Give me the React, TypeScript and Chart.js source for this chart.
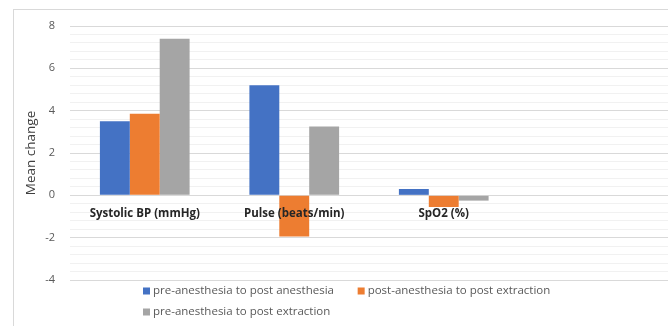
import React, { useEffect, useRef } from 'react';
import { Chart, registerables } from 'chart.js';

Chart.register(...registerables);

// ---- data ----
const categories = ['Systolic BP (mmHg)', 'Pulse (beats/min)', 'SpO2 (%)', ''];
const seriesNames = [
  'pre-anesthesia to post anesthesia',
  'post-anesthesia to post extraction',
  'pre-anesthesia to post extraction',
];
const preToPostAnesthesia = [3.5, 5.2, 0.3, null];
const postAnesthesiaToPostExtraction = [3.85, -1.95, -0.55, null];
const preAnesthesiaToPostExtraction = [7.4, 3.25, -0.25, null];
const seriesColors = ['#4472C4', '#ED7D31', '#A5A5A5'];
const yMin = -4;
const yMax = 8;
const yMajorStep = 2;
const yMinorStep = 0.4;
const yTitle = 'Mean change';

const FONT = '"Open Sans", "DejaVu Sans", sans-serif';

const isMajor = (v: number) => Math.abs(v / yMajorStep - Math.round(v / yMajorStep)) < 1e-6;

const categoryLabelPlugin = {
  id: 'categoryLabels',
  afterDatasetsDraw(chart: any) {
    const { ctx, scales } = chart;
    const x = scales.x;
    const y = scales.y;
    const y0 = y.getPixelForValue(0);
    ctx.save();
    ctx.font = `bold 11.5px ${FONT}`;
    ctx.fillStyle = '#262626';
    ctx.textAlign = 'center';
    ctx.textBaseline = 'middle';
    categories.forEach((c, i) => {
      if (c) ctx.fillText(c, x.getPixelForValue(i), y0 + 18);
    });
    ctx.restore();
  },
};

const legendPlugin = {
  id: 'excelLegend',
  afterDraw(chart: any) {
    const { ctx } = chart;
    ctx.save();
    ctx.font = `11.5px ${FONT}`;
    ctx.textBaseline = 'middle';
    ctx.textAlign = 'left';
    const maxW = Math.max(...seriesNames.map((n) => ctx.measureText(n).width));
    const pitch = 10 + maxW + 22;
    const startX = 143;
    const rowY = [291, 312];
    seriesNames.forEach((name, i) => {
      const col = i % 2;
      const row = Math.floor(i / 2);
      const bx = startX + col * pitch;
      const by = rowY[row];
      ctx.fillStyle = seriesColors[i];
      ctx.fillRect(bx, by - 3.5, 7, 7);
      ctx.fillStyle = '#595959';
      ctx.fillText(name, bx + 10, by);
    });
    ctx.restore();
  },
};

export default function App() {
  const canvasRef = useRef<HTMLCanvasElement | null>(null);

  useEffect(() => {
    if (!canvasRef.current) return;
    const chart = new Chart(canvasRef.current, {
      type: 'bar',
      data: {
        labels: categories,
        datasets: [
          { label: seriesNames[0], data: preToPostAnesthesia, backgroundColor: seriesColors[0] },
          { label: seriesNames[1], data: postAnesthesiaToPostExtraction, backgroundColor: seriesColors[1] },
          { label: seriesNames[2], data: preAnesthesiaToPostExtraction, backgroundColor: seriesColors[2] },
        ],
      },
      options: {
        animation: false,
        responsive: true,
        maintainAspectRatio: false,
        layout: { padding: { left: 0, right: 0, top: 26, bottom: 46 } },
        datasets: {
          bar: { categoryPercentage: 0.6, barPercentage: 1.0 },
        },
        plugins: {
          legend: { display: false },
          tooltip: { enabled: false },
        },
        scales: {
          x: {
            display: true,
            ticks: { display: false },
            grid: { display: false, drawTicks: false },
            border: { display: false },
          },
          y: {
            min: yMin,
            max: yMax,
            afterFit: (scale: any) => {
              scale.width = 70;
            },
            ticks: {
              stepSize: yMinorStep,
              padding: 15,
              autoSkip: false,
              color: '#595959',
              font: { family: FONT, size: 11 },
              callback: (v: any) => (isMajor(Number(v)) ? String(Math.round(Number(v))) : ''),
            },
            grid: {
              drawTicks: false,
              color: (ctx: any) => (ctx.tick && isMajor(ctx.tick.value) ? '#d9d9d9' : '#f1f1f1'),
              lineWidth: 1,
            },
            border: { display: false },
            title: {
              display: true,
              text: yTitle,
              color: '#404040',
              font: { family: FONT, size: 13.5 },
              padding: { top: 23, bottom: 0 },
            },
          },
        },
      },
      plugins: [categoryLabelPlugin, legendPlugin],
    } as any);
    return () => chart.destroy();
  }, []);

  return (
    <div style={{ position: 'fixed', left: 0, top: 0, width: 668, height: 326, background: '#fff' }}>
      <div
        style={{
          position: 'absolute',
          left: 13,
          top: 9,
          width: 680,
          height: 400,
          borderLeft: '1px solid #d9d9d9',
          borderTop: '1px solid #d9d9d9',
        }}
      />
      <div style={{ position: 'absolute', left: 0, top: 0, width: 668, height: 326 }}>
        <canvas ref={canvasRef} />
      </div>
    </div>
  );
}
